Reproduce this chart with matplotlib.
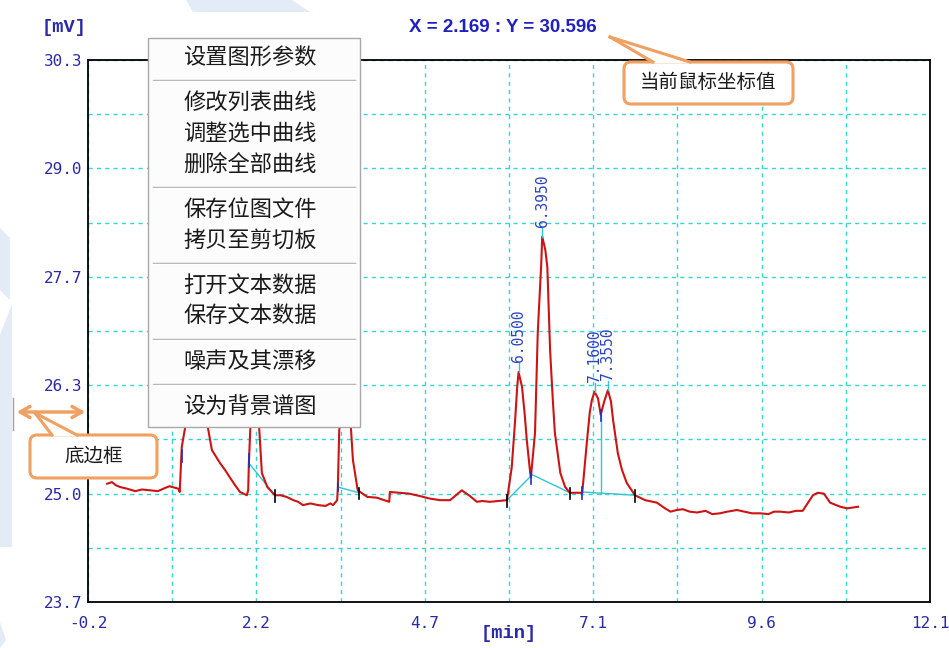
import numpy as np
import matplotlib
matplotlib.use('Agg')
import matplotlib.pyplot as plt
from matplotlib.patches import Polygon, Rectangle, FancyBboxPatch, FancyArrowPatch

plt.rcParams['font.family'] = ['DejaVu Sans', 'Noto Sans CJK SC']

# chromatogram trace: retention time [min] / signal [mV]
t = [0.04, 0.11, 0.17, 0.23, 0.33, 0.45, 0.55, 0.67, 0.78, 0.89, 0.95, 0.99, 1.08, 1.10,
     1.13, 1.18, 1.23, 1.29, 1.36, 1.42,
     1.51, 1.57, 1.69, 1.76, 1.83, 1.91, 1.98, 2.08, 2.10, 2.11, 2.13, 2.17, 2.24, 2.26, 2.30,
     2.38, 2.49, 2.57, 2.66, 2.76, 2.83, 2.90, 3.01, 3.12, 3.23, 3.30, 3.34, 3.40,
     3.41, 3.43, 3.51, 3.60, 3.63, 3.70, 3.84,
     3.98, 4.16, 4.17, 4.32, 4.45, 4.61, 4.75, 4.90, 5.05, 5.22, 5.34, 5.44, 5.52, 5.63, 5.75, 5.88,
     5.95, 6.00, 6.03, 6.05, 6.10, 6.14, 6.17, 6.22, 6.23, 6.29, 6.33, 6.38, 6.395, 6.44,
     6.47, 6.51, 6.55, 6.58, 6.66, 6.73, 6.80, 6.89, 6.98, 7.05, 7.09, 7.12, 7.16, 7.21,
     7.25, 7.30, 7.355, 7.40, 7.43, 7.50, 7.56, 7.63, 7.75, 7.90, 8.07, 8.19, 8.27, 8.36,
     8.45, 8.55, 8.66, 8.78, 8.88, 8.99, 9.10, 9.24, 9.35, 9.46, 9.58, 9.70, 9.78, 9.87,
     10.00, 10.10, 10.20, 10.35, 10.42, 10.51, 10.60, 10.75, 10.85, 11.01]
mv = [25.14, 25.16, 25.12, 25.10, 25.08, 25.05, 25.07, 25.06, 25.05, 25.09, 25.11, 25.10, 25.08, 25.04,
      25.59, 25.83, 26.60, 27.10, 26.90, 26.30,
      25.83, 25.55, 25.39, 25.31, 25.22, 25.12, 25.04, 25.00, 25.06, 25.39, 25.79, 26.50, 26.00, 25.83, 25.27,
      25.10, 25.00, 25.00, 24.98, 24.94, 24.92, 24.88, 24.90, 24.88, 24.87, 24.90, 24.88, 24.94,
      25.10, 25.79, 26.40, 25.83, 25.43, 25.06, 24.98,
      24.97, 24.92, 25.04, 25.03, 25.02, 24.99, 24.96, 24.94, 24.94, 25.06, 24.99, 24.92, 24.93, 24.92, 24.93, 24.94,
      25.34, 25.92, 26.32, 26.50, 26.32, 25.98, 25.67, 25.27, 25.22, 25.76, 26.98, 27.80, 28.15, 27.99,
      27.78, 26.77, 26.16, 25.76, 25.27, 25.10, 25.03, 25.03, 25.03, 25.67, 26.01, 26.16, 26.26, 26.18,
      25.98, 26.14, 26.28, 26.14, 25.92, 25.51, 25.31, 25.15, 25.00, 24.94, 24.91, 24.84, 24.80, 24.82,
      24.83, 24.80, 24.79, 24.81, 24.77, 24.78, 24.80, 24.82, 24.80, 24.78, 24.78, 24.77, 24.80, 24.80,
      24.79, 24.81, 24.81, 25.00, 25.03, 25.02, 24.91, 24.86, 24.84, 24.86]

# labelled peaks
peak_t = [6.05, 6.395, 7.16, 7.355]
peak_mv = [26.50, 28.15, 26.26, 26.28]

# integration baselines (start/end points)
base_t = [[2.11, 2.49], [3.41, 3.72], [5.88, 6.25, 6.80], [6.98, 7.75]]
base_mv = [[25.39, 25.00], [25.10, 25.03], [24.94, 25.25, 25.03], [25.04, 25.00]]
drop_t = 7.25
drop_mv = [25.98, 25.02]

mark_black = [(2.49, 25.00), (3.72, 25.03), (5.88, 24.94), (6.80, 25.03), (7.75, 25.00)]
mark_blue = [(6.23, 25.22), (6.98, 25.04), (7.25, 25.98)]

x_min, x_max = -0.24, 12.06
y_min, y_max = 23.7, 30.3

menu_items = [['设置图形参数'],
              ['修改列表曲线', '调整选中曲线', '删除全部曲线'],
              ['保存位图文件', '拷贝至剪切板'],
              ['打开文本数据', '保存文本数据'],
              ['噪声及其漂移'],
              ['设为背景谱图']]

W, H = 949, 648
fig = plt.figure(figsize=(W / 100, H / 100), dpi=100)
fig.patch.set_facecolor('white')

# faint background shapes
bg = fig.add_axes([0, 0, 1, 1], zorder=-1)
bg.set_xlim(0, W)
bg.set_ylim(H, 0)
bg.axis('off')
wm = '#e3ebf6'
bg.add_patch(Polygon([(186, 0), (292, 0), (310, 12), (193, 12)], color=wm, lw=0))
bg.add_patch(Polygon([(0, 335), (12, 304), (12, 547), (0, 547)], color=wm, lw=0))
bg.add_patch(Polygon([(0, 228), (10, 238), (10, 300), (0, 290)], color=wm, lw=0))
bg.add_patch(Polygon([(0, 622), (6, 640), (0, 648)], color=wm, lw=0))

ax = fig.add_axes([88 / W, 46 / H, 842 / W, 542 / H], zorder=1)
ax.set_xlim(x_min, x_max)
ax.set_ylim(y_min, y_max)

blue = '#2a2aa8'
xt = np.linspace(x_min, x_max, 11)
yt = np.linspace(y_min, y_max, 11)
ax.set_xticks(xt)
ax.set_yticks(yt)
ax.set_xticklabels(['%.1f' % v if i % 2 == 0 else '' for i, v in enumerate(xt)])
ax.set_yticklabels(['%.1f' % v if i % 2 == 0 else '' for i, v in enumerate(yt)])
ax.tick_params(length=0, colors=blue, labelsize=11.5)
ax.tick_params(axis='x', pad=10)
ax.tick_params(axis='y', pad=4)
for lab in ax.get_xticklabels() + ax.get_yticklabels():
    lab.set_family('DejaVu Sans Mono')
ax.grid(True, color='#33d6d6', linestyle=(0, (3, 3)), lw=1.0)
for s in ax.spines.values():
    s.set_color('black')
    s.set_linewidth(1.3)

cyan = '#33c4d4'
for bx, by in zip(base_t, base_mv):
    ax.plot(bx, by, color=cyan, lw=1.0, zorder=3)
ax.plot([drop_t, drop_t], drop_mv, color=cyan, lw=1.0, zorder=3)

ax.plot(t, mv, color='#cc1414', lw=1.5, zorder=4)

for mx, my in mark_black:
    ax.plot([mx, mx], [my - 0.08, my + 0.06], color='black', lw=1.2, zorder=5)
for mx, my in mark_blue:
    ax.plot([mx, mx], [my - 0.08, my + 0.06], color='#2030c0', lw=1.2, zorder=5)
ax.plot([1.13, 1.13], [25.40, 25.55], color='#2030c0', lw=1.2, zorder=5)
ax.plot([2.11, 2.11], [25.35, 25.50], color='#2030c0', lw=1.2, zorder=5)
ax.plot([3.41, 3.41], [25.05, 25.15], color='#2030c0', lw=1.2, zorder=5)

for px, py in zip(peak_t, peak_mv):
    ax.plot([px, px], [py, py + 0.11], color=cyan, lw=1.0, zorder=5)
    ax.annotate('%.4f' % px, (px, py), xytext=(0, 7), textcoords='offset points',
                rotation=90, ha='center', va='bottom', color='#2a44c0',
                family='DejaVu Sans Mono', fontsize=10.5, zorder=6)

# overlay in pixel units: titles, popup menu, callouts
ov = fig.add_axes([0, 0, 1, 1], zorder=5)
ov.set_xlim(0, W)
ov.set_ylim(H, 0)
ov.axis('off')
ov.patch.set_alpha(0)

ov.text(64, 27, '[mV]', color=blue, family='Liberation Mono', weight='bold',
        fontsize=13.5, ha='center', va='center')
ov.text(509, 633, '[min]', color=blue, family='Liberation Mono', weight='bold',
        fontsize=13.5, ha='center', va='center')
ov.text(503, 27, 'X = 2.169 : Y = 30.596', color='#2020c0', family='Liberation Sans',
        weight='bold', fontsize=13.5, ha='center', va='center')

cjk = ['Noto Sans CJK SC', 'DejaVu Sans']
ov.add_patch(Rectangle((148, 38), 212, 389, facecolor='#fcfcfc', edgecolor='#a8a8a8', lw=1.0))
row_y = 57
for gi, group in enumerate(menu_items):
    if gi > 0:
        ov.plot([153, 355], [row_y - 22, row_y - 22], color='#a8a8a8', lw=1.0)
        ov.plot([153, 355], [row_y - 21, row_y - 21], color='white', lw=1.0)
    for item in group:
        ov.text(250, row_y, item, family=cjk, fontsize=16, color='#1a1a1a',
                ha='center', va='center')
        row_y += 31
    row_y += 14
orange = '#f0a060'

def callout(x0, y0, x1, y1, tip, base, label):
    ov.add_patch(FancyBboxPatch((x0, y0), x1 - x0, y1 - y0,
                                boxstyle='round,pad=0,rounding_size=7',
                                facecolor='white', edgecolor=orange, lw=2.2, zorder=2))
    ov.add_patch(Polygon([tip, (base[0], y0 + 1.5), (base[1], y0 + 1.5)],
                         facecolor='white', edgecolor='none', zorder=3))
    ov.plot([tip[0], base[0]], [tip[1], y0], color=orange, lw=2.2, zorder=4)
    ov.plot([tip[0], base[1]], [tip[1], y0], color=orange, lw=2.2, zorder=4)
    ov.text((x0 + x1) / 2, (y0 + y1) / 2, label, family=cjk, fontsize=14,
            color='#1a1a1a', ha='center', va='center', zorder=5)

callout(624, 62, 793, 104, (610, 37), (653, 690), '当前鼠标坐标值')
callout(30, 435, 157, 478, (35, 413), (52, 77), '底边框')

ov.plot([13, 13], [398, 430], color='#a0a0a0', lw=1.0)
ov.add_patch(FancyArrowPatch((14, 412), (88, 412), arrowstyle='<->,head_length=7,head_width=4',
                             color=orange, lw=2.5, mutation_scale=1, zorder=4))

fig.savefig('out.png', dpi=100)
